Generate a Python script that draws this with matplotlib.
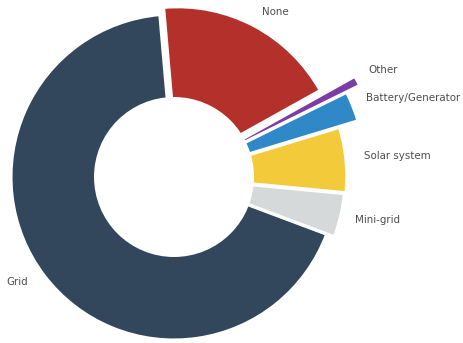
import matplotlib
matplotlib.use("Agg")
import matplotlib.pyplot as plt
from matplotlib.patches import Circle

# Data
categories = ["Grid", "Mini-grid", "Solar system", "Battery/Generator", "Other", "None"]
shares = [67.9, 4.2, 6.2, 2.6, 0.8, 18.3]

# Styles
colors = ["#33475c", "#d6d9d9", "#f2ca3a", "#2f88c8", "#7d3ca3", "#b3312a"]
explode = [0.0, 0.02, 0.02, 0.03, 0.02, 0.05]
radii = [1.0, 1.03, 1.04, 1.15, 1.25, 1.0]

W, H = 464, 343
cx, cy, R = 174, 177, 163.0  # pixel center / radius

fig = plt.figure(figsize=(W / 100, H / 100), dpi=100)
ax = fig.add_axes([0, 0, 1, 1])

wedges, _ = ax.pie(shares, colors=colors, explode=explode, startangle=95,
                   counterclock=True, radius=1.0,
                   wedgeprops=dict(edgecolor="white", linewidth=2.2))
for w, r in zip(wedges, radii):
    w.set_radius(r)

ax.add_patch(Circle((0, 0), 80 / R, facecolor="white", edgecolor="none", zorder=5))

ax.set_aspect("auto")
ax.set_xlim(-cx / R, (W - cx) / R)
ax.set_ylim(-(H - cy) / R, cy / R)
ax.axis("off")

# label positions (pixels)
label_px = [(17, 282), (378, 220), (397, 156), (413, 98), (383, 70), (275, 12)]
for name, (px, py) in zip(categories, label_px):
    ax.text((px - cx) / R, (cy - py) / R, name, ha="center", va="center",
            fontsize=7.4, color="#4d4d4d", family="DejaVu Sans")

fig.savefig("out.png", dpi=100)
